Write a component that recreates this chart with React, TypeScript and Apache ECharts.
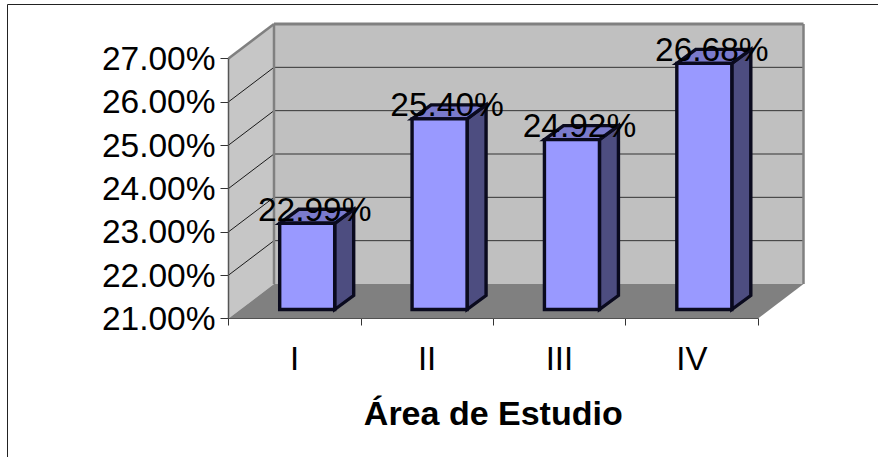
import React, { useEffect, useRef } from "react";
import * as echarts from "echarts";

const categories = ["I", "II", "III", "IV"];
const percentages = [22.99, 25.4, 24.92, 26.68];
const gridValues = [22, 23, 24, 25, 26];
const axisMin = 21;
const axisMax = 27;
const axisTitle = "Área de Estudio";

const FONT = "Liberation Sans, Arial, sans-serif";
// Oblique offset from the front plane of the box to its back wall.
const WALL_DX = 45.5;
const WALL_DY = -34.5;
// Offset and size of the bars inside the box.
const BAR_DX = 12.5;
const BAR_DY = -9;
const BAR_W = 55;
const BAR_DEPTH_X = 19;
const BAR_DEPTH_Y = -14;

function poly(points: number[][], fill: string, stroke?: string, lineWidth = 0) {
  return {
    type: "polygon",
    shape: { points },
    style: { fill, stroke: stroke ?? "none", lineWidth, lineJoin: "miter" },
  };
}

function seg(a: number[], b: number[], stroke: string, lineWidth: number) {
  return {
    type: "line",
    shape: { x1: a[0], y1: a[1], x2: b[0], y2: b[1] },
    style: { stroke, lineWidth },
  };
}

function renderBox(_: any, api: any) {
  const size = api.size([1, 0]);
  const first = api.coord([0, axisMin]);
  const last = api.coord([categories.length - 1, axisMin]);
  const top = api.coord([0, axisMax]);
  const x0 = first[0] - size[0] / 2;
  const x1 = last[0] + size[0] / 2;
  const y0 = first[1];
  const y1 = top[1];
  const children: any[] = [
    poly([[x0 + WALL_DX, y1 + WALL_DY], [x1 + WALL_DX, y1 + WALL_DY], [x1 + WALL_DX, y0 + WALL_DY], [x0 + WALL_DX, y0 + WALL_DY]], "#c0c0c0"),
    poly([[x0, y1], [x0 + WALL_DX, y1 + WALL_DY], [x0 + WALL_DX, y0 + WALL_DY], [x0, y0]], "#c6c6c6"),
    poly([[x0, y0], [x1, y0], [x1 + WALL_DX, y0 + WALL_DY], [x0 + WALL_DX, y0 + WALL_DY]], "#808080"),
  ];
  for (const v of gridValues) {
    const y = api.coord([0, v])[1];
    children.push(seg([x0, y], [x0 + WALL_DX, y + WALL_DY], "#1a1a1a", 1));
    children.push(seg([x0 + WALL_DX, y + WALL_DY], [x1 + WALL_DX, y + WALL_DY], "#333333", 1));
  }
  const edge = "#808080";
  children.push(seg([x0, y1], [x0 + WALL_DX, y1 + WALL_DY], edge, 2.5));
  children.push(seg([x0 + WALL_DX, y1 + WALL_DY], [x1 + WALL_DX, y1 + WALL_DY], edge, 3));
  children.push(seg([x0 + WALL_DX, y1 + WALL_DY], [x0 + WALL_DX, y0 + WALL_DY], edge, 2.5));
  children.push(seg([x1 + WALL_DX, y1 + WALL_DY], [x1 + WALL_DX, y0 + WALL_DY], edge, 2.5));
  children.push(seg([x0, y1], [x0, y0], "#555555", 1.5));
  return { type: "group", children };
}

function renderBar(_: any, api: any) {
  const cat = api.value(0);
  const val = api.value(1);
  const topPt = api.coord([cat, val]);
  const basePt = api.coord([cat, axisMin]);
  const l = topPt[0] + BAR_DX - BAR_W / 2;
  const r = l + BAR_W;
  const t = topPt[1] + BAR_DY;
  const b = basePt[1] + BAR_DY;
  const outline = "#0a0a1e";
  const lw = 3.4;
  return {
    type: "group",
    children: [
      poly([[r, t], [r + BAR_DEPTH_X, t + BAR_DEPTH_Y], [r + BAR_DEPTH_X, b + BAR_DEPTH_Y], [r, b]], "#4d4d80", outline, lw),
      poly([[l, t], [l + BAR_DEPTH_X, t + BAR_DEPTH_Y], [r + BAR_DEPTH_X, t + BAR_DEPTH_Y], [r, t]], "#7a7acc", outline, lw),
      poly([[l, t], [r, t], [r, b], [l, b]], "#9999ff", outline, lw),
    ],
  };
}

function renderValueLabel(_: any, api: any) {
  const cat = api.value(0);
  const val = api.value(1);
  const p = api.coord([cat, val]);
  return {
    type: "text",
    x: p[0] + 20,
    y: p[1] - 23,
    style: {
      text: val.toFixed(2) + "%",
      font: `33.5px ${FONT}`,
      fill: "#000",
      align: "center",
      verticalAlign: "middle",
    },
  };
}

export default function App() {
  const ref = useRef<HTMLDivElement>(null);

  useEffect(() => {
    document.body.style.margin = "0";
    const chart = echarts.init(ref.current!, undefined, { renderer: "svg" });
    const points = percentages.map((v, i) => [i, v]);
    chart.setOption({
      animation: false,
      backgroundColor: "#ffffff",
      grid: { left: 228.5, right: 120, top: 58.5, bottom: 138.5, containLabel: false },
      graphic: [
        {
          type: "polyline",
          shape: { points: [[7.5, 457], [7.5, 4.5], [878, 4.5]] },
          style: { stroke: "#222", lineWidth: 1, fill: "none" },
          silent: true,
        },
      ],
      xAxis: {
        type: "category",
        data: categories,
        boundaryGap: true,
        axisLine: { onZero: false, lineStyle: { color: "#222", width: 1 } },
        axisTick: { show: true, length: 7, lineStyle: { color: "#333" } },
        axisLabel: { color: "#000", fontFamily: FONT, fontSize: 33, margin: 23 },
        splitLine: { show: false },
        name: axisTitle,
        nameLocation: "middle",
        nameGap: 77,
        nameTextStyle: { color: "#000", fontFamily: FONT, fontSize: 34, fontWeight: "bold" },
      },
      yAxis: {
        type: "value",
        min: axisMin,
        max: axisMax,
        interval: 1,
        axisLine: { show: false },
        axisTick: { show: true, length: 8, lineStyle: { color: "#333" } },
        axisLabel: {
          color: "#000",
          fontFamily: FONT,
          fontSize: 33.5,
          margin: 13,
          padding: [2, 0, 0, 0],
          formatter: (v: number) => v.toFixed(2) + "%",
        },
        splitLine: { show: false },
      },
      series: [
        { type: "custom", coordinateSystem: "cartesian2d", renderItem: renderBox, data: [[0, axisMin]], z: 1, silent: true },
        { type: "custom", coordinateSystem: "cartesian2d", renderItem: renderBar, data: points, z: 2, silent: true },
        { type: "custom", coordinateSystem: "cartesian2d", renderItem: renderValueLabel, data: points, z: 3, silent: true },
      ],
    });
    return () => chart.dispose();
  }, []);

  return <div ref={ref} style={{ width: 878, height: 457 }} />;
}
